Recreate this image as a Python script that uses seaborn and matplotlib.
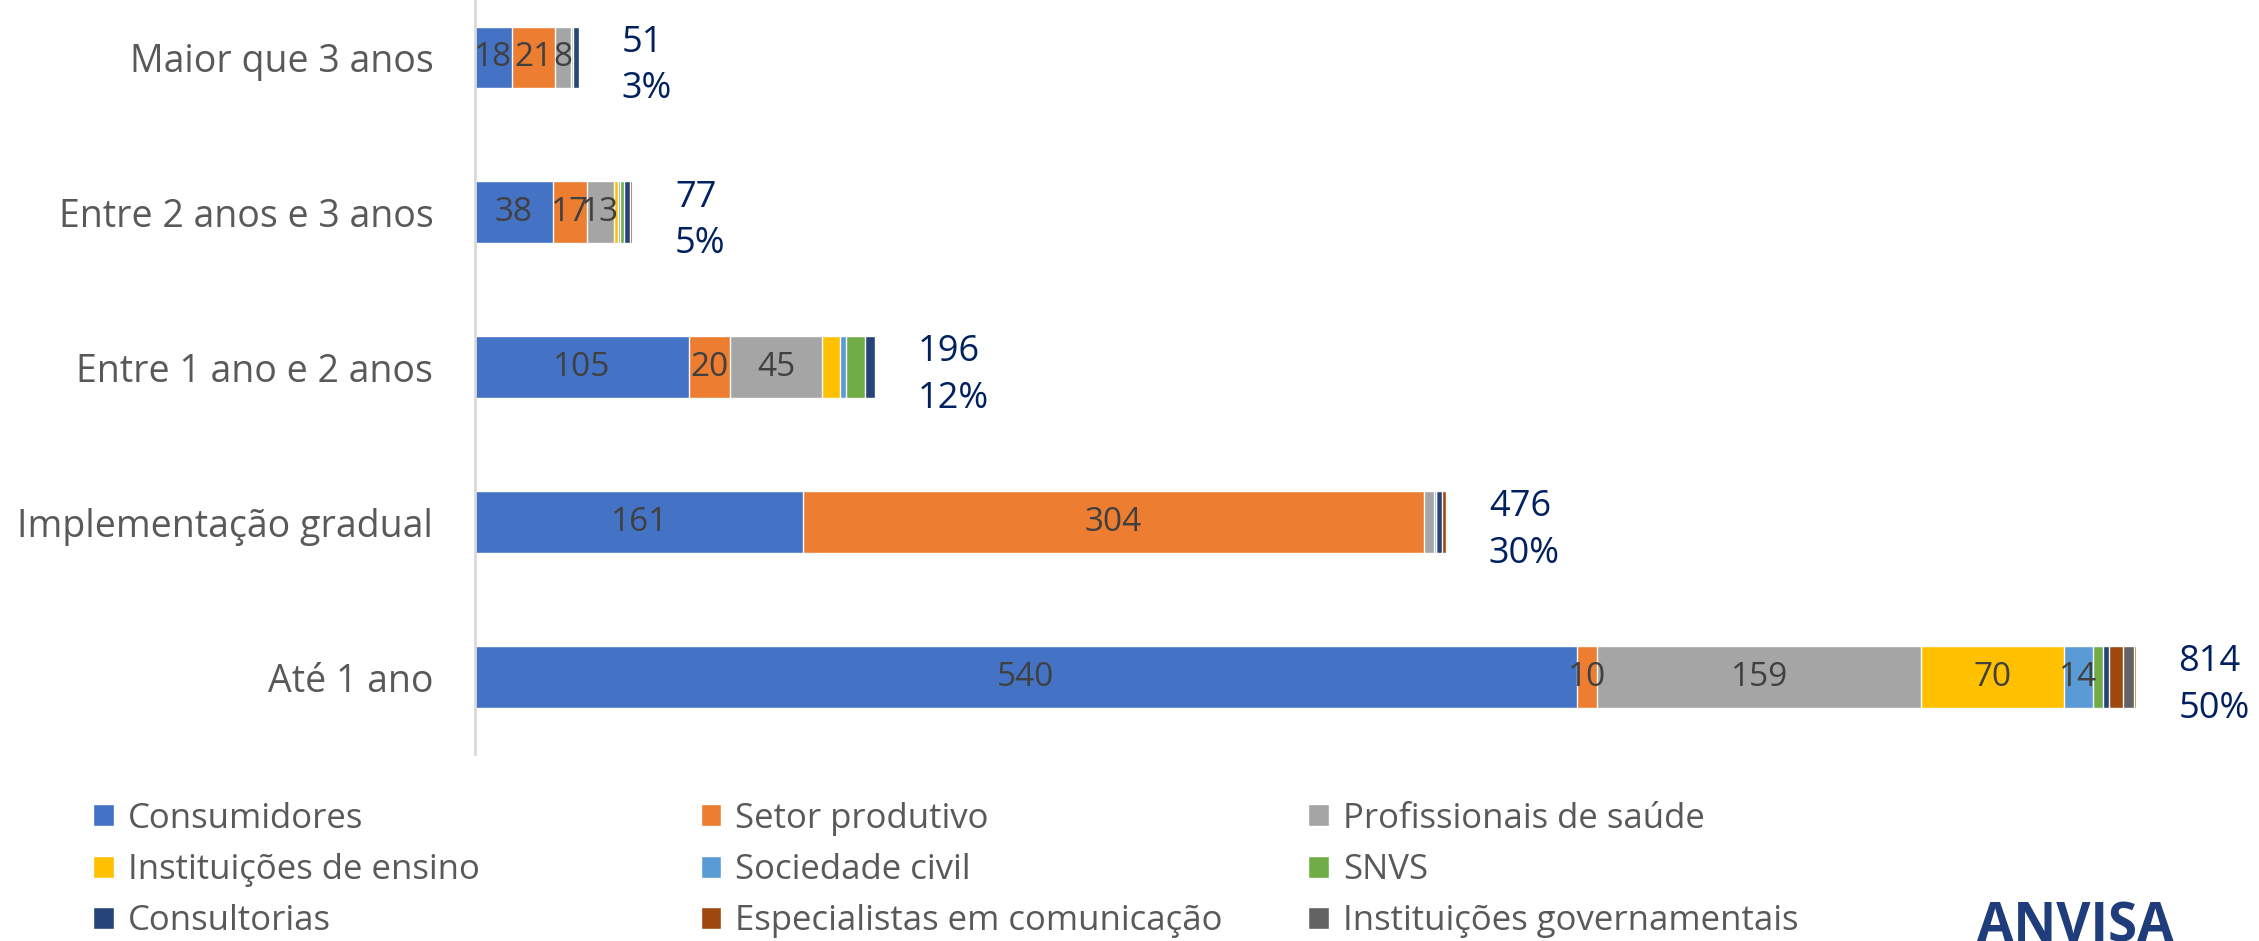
import matplotlib
matplotlib.use('Agg')
import matplotlib.pyplot as plt
from matplotlib.patches import Patch
import numpy as np
import pandas as pd
import seaborn as sns

# categorias (de cima para baixo)
categorias = ['Maior que 3 anos', 'Entre 2 anos e 3 anos', 'Entre 1 ano e 2 anos',
              'Implementação gradual', 'Até 1 ano']

# contribuições por segmento
consumidores = [18, 38, 105, 161, 540]
setor_produtivo = [21, 17, 20, 304, 10]
profissionais = [8, 13, 45, 5, 159]
inst_ensino = [0, 2, 9, 0, 70]
sociedade_civil = [0, 1, 3, 1, 14]
snvs = [1, 2, 9, 0, 5]
consultorias = [3, 3, 5, 3, 3]
especialistas = [0, 1, 0, 2, 7]
inst_governamentais = [0, 0, 0, 0, 5]
outros = [0, 0, 0, 0, 1]

# percentuais como aparecem no gráfico
percentuais = ['3%', '5%', '12%', '30%', '50%']

grupos = ['Consumidores', 'Setor produtivo', 'Profissionais de saúde',
          'Instituições de ensino', 'Sociedade civil', 'SNVS',
          'Consultorias', 'Especialistas em comunicação',
          'Instituições governamentais', 'Outros']
valores = [consumidores, setor_produtivo, profissionais, inst_ensino,
           sociedade_civil, snvs, consultorias, especialistas,
           inst_governamentais, outros]
cores = ['#4472C4', '#ED7D31', '#A5A5A5', '#FFC000', '#5B9BD5', '#70AD47',
         '#264478', '#9E480E', '#636363', '#997300']

df = pd.DataFrame(dict(zip(grupos, valores)), index=categorias)
acumulado = df.cumsum(axis=1)
totais = df.sum(axis=1)

sns.set_theme(style='white')
plt.rcParams['font.family'] = ['Open Sans', 'DejaVu Sans']

fig = plt.figure(figsize=(22.59, 9.41), dpi=100)
ax = fig.add_axes([475 / 2259, 0.1982, 1836 / 2259, 0.823])

# empilhamento: desenha do maior acumulado para o menor
for i in range(len(grupos) - 1, -1, -1):
    sns.barplot(x=acumulado.iloc[:, i].values, y=categorias, orient='h',
                color=cores[i], saturation=1, width=0.4, ax=ax)

# rótulos dentro das barras
for j, cat in enumerate(categorias):
    esquerda = 0
    for i, g in enumerate(grupos):
        v = df.loc[cat, g]
        if (i <= 2 and v >= 8) or v >= 14:
            ax.text(esquerda + v / 2, j, str(v), ha='center', va='center',
                    fontsize=24, color='#404040')
        esquerda += v
    ax.text(totais[cat] + 21, j + 0.055, f'{totais[cat]}\n{percentuais[j]}',
            ha='left', va='center', fontsize=26, color='#002060',
            linespacing=1.4, clip_on=False)

ax.set_xlim(0, 900)
ax.set_ylim(4.5, -0.5)
ax.set_xlabel('')
ax.set_ylabel('')
ax.set_xticks([])
ax.tick_params(axis='y', length=0, pad=30, labelsize=27, labelcolor='#595959')
for s in ['top', 'right', 'bottom']:
    ax.spines[s].set_visible(False)
ax.spines['left'].set_color('#D9D9D9')
ax.spines['left'].set_linewidth(2)

# legenda em 3 colunas
xs = [0.035, 0.304, 0.573]
for c in range(3):
    handles = [Patch(facecolor=cores[c + 3 * r], label=grupos[c + 3 * r]) for r in range(3)]
    fig.legend(handles=handles, loc='upper left', bbox_to_anchor=(xs[c], 0.163),
               frameon=False, fontsize=25, labelcolor='#595959',
               handlelength=0.6, handleheight=0.6, handletextpad=0.4,
               labelspacing=0.5, borderaxespad=0)

fig.text(0.875, 0.0, 'ANVISA', fontsize=38, fontweight='bold',
         color='#1F3D7A', ha='left', va='baseline')

fig.savefig('out.png', dpi=100)
